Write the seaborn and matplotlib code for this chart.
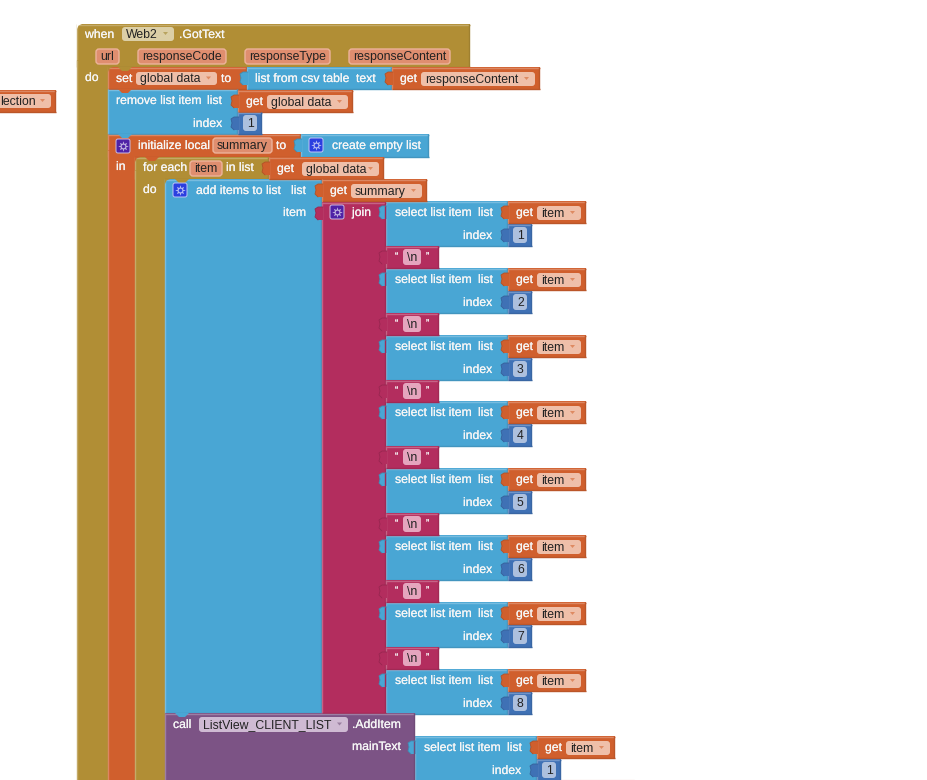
import matplotlib
matplotlib.use("Agg")
import matplotlib.pyplot as plt
import matplotlib.patheffects as pe
from matplotlib.patches import Rectangle, FancyBboxPatch, Polygon
import seaborn as sns

sns.set_theme(style="white")
plt.rcParams['font.family'] = ['Liberation Sans', 'DejaVu Sans']

# block colours
GOLD = "#B18E35"
ORANGE = "#D05F2D"
BLUE = "#49A6D4"
MAGENTA = "#B32D5E"
PURPLE = "#7C5385"
INDEX = "#3F71B5"
PILL_GET = "#EFBFA9"
PILL_PARAM = "#DF8E6F"
PILL_WEB = "#DCCFA6"
PILL_CALL = "#CFBAD3"
PILL_STR = "#E5A5BE"
PILL_IDX = "#ADC0DE"
GEAR_PURPLE = "#4F22A6"
GEAR_BLUE = "#2B3FE0"

# the repeated rows inside join
select_tops = [201, 268, 335, 401, 468, 535, 602, 669]
select_index = ["1", "2", "3", "4", "5", "6", "7", "8"]
string_tops = [246, 313, 380, 446, 513, 580, 647]
param_names = ["url", "responseCode", "responseType", "responseContent"]
param_left = [96, 138, 245, 349]
param_right = [119, 226, 330, 450]

fig = plt.figure(figsize=(9.28, 7.8), dpi=100, facecolor="white")
ax = fig.add_axes([0, 0, 1, 1])
ax.set_xlim(0, 928)
ax.set_ylim(780, 0)
ax.set_axis_off()


def lighter(c, amt=0.25):
    r, g, b = matplotlib.colors.to_rgb(c)
    return (r + (1 - r) * amt, g + (1 - g) * amt, b + (1 - b) * amt)


def darker(c, amt=0.1):
    r, g, b = matplotlib.colors.to_rgb(c)
    return (r * (1 - amt), g * (1 - amt), b * (1 - amt))


def box(x0, y0, x1, y1, color, z=2):
    ax.add_patch(Rectangle((x0, y0), x1 - x0, y1 - y0, fc=color, ec="none", zorder=z))
    ax.plot([x0, x1], [y0 + 0.5, y0 + 0.5], color=lighter(color), lw=1, zorder=z + 0.1, solid_capstyle="butt")
    ax.plot([x0 + 0.5, x0 + 0.5], [y0, y1], color=lighter(color), lw=1, zorder=z + 0.1, solid_capstyle="butt")
    ax.plot([x0, x1], [y1 - 0.5, y1 - 0.5], color=darker(color), lw=1, zorder=z + 0.1, solid_capstyle="butt")
    ax.plot([x1 - 0.5, x1 - 0.5], [y0, y1], color=darker(color), lw=1, zorder=z + 0.1, solid_capstyle="butt")


def column(x0, x1, y0, color, z):
    # the arm of a C shaped block, running off the bottom of the picture
    ax.add_patch(Rectangle((x0, y0), x1 - x0, 790 - y0, fc=color, ec="none", zorder=z))
    ax.plot([x0 + 0.5, x0 + 0.5], [y0, 780], color=lighter(color), lw=1, zorder=z + 0.1, solid_capstyle="butt")


def corner(x, y, parent, z=4):
    # rounded top left of a statement block, painted in the parent's colour
    ax.add_patch(Polygon([(x, y), (x + 5, y), (x + 1.5, y + 1.5), (x, y + 5)], fc=parent, ec="none", zorder=z))


def tab(x, y, color, z=3):
    # puzzle tab on the left edge of a value block
    pts = [(x + 1, y + 5), (x - 4, y + 5), (x - 7, y + 7), (x - 6, y + 11), (x - 7, y + 15), (x - 4, y + 18), (x + 1, y + 18)]
    ax.add_patch(Polygon(pts, fc=color, ec="none", zorder=z))
    ax.plot([p[0] for p in pts[:-1]], [p[1] for p in pts[:-1]], color=darker(color, 0.15), lw=0.6, zorder=z + 0.1)


def notch(x, y, color, z=4):
    # statement notch: the previous block's bump reaching into this one
    ax.add_patch(Polygon([(x, y), (x + 4, y + 4), (x + 10, y + 4), (x + 14, y)], fc=color, ec="none", zorder=z))


def label(x, y, s, color="#F6F6F6", ha="left", size=8.8, z=6):
    effects = [pe.withStroke(linewidth=0.12, foreground=color)] if color == "#F6F6F6" else []
    ax.text(x, y, s, color=color, ha=ha, va="center", fontsize=size, zorder=z, path_effects=effects)


def pill(x0, y0, x1, y1, s, color, arrow=None, tcolor="#222222", ec=None):
    ax.add_patch(FancyBboxPatch((x0 + 3, y0 + 3), x1 - x0 - 6, y1 - y0 - 6,
                                boxstyle="round,pad=3", fc=color, ec=ec or "none", lw=1, zorder=5))
    if s:
        label(x0 + 4, (y0 + y1) / 2 + 0.8, s, color=tcolor)
    if arrow is not None:
        ym = (y0 + y1) / 2
        ax.add_patch(Polygon([(x1 - 11, ym - 2), (x1 - 6, ym - 2), (x1 - 8.5, ym + 1)], fc=arrow,
                             ec="none", zorder=6))


def gear(x, y, color):
    ax.add_patch(FancyBboxPatch((x + 2, y + 2), 10, 10, boxstyle="round,pad=2", fc=color, ec=lighter(color, 0.7), lw=0.7, zorder=5))
    ax.plot([x + 7], [y + 7], marker=(8, 1, 0), ms=7.5, color=lighter(color, 0.65), mew=0, zorder=6)
    ax.plot([x + 7], [y + 7], marker="o", ms=2.6, color=color, mew=0, zorder=7)


def get_block(x, y, name, pill_x0, x1):
    box(x, y, x1, y + 22, ORANGE, z=3)
    tab(x, y, ORANGE, z=4)
    label(x + 8, y + 12, "get")
    pill(pill_x0, y + 5, x1 - 5, y + 19, name, PILL_GET, arrow="#DE8A62")


def index_block(x, y, s):
    box(x, y, x + 24, y + 22, INDEX, z=3)
    tab(x, y, INDEX, z=4)
    pill(x + 5, y + 3, x + 19, y + 19, s, PILL_IDX)


def select_block(x, y, s):
    box(x, y, x + 122, y + 45, BLUE, z=2)
    tab(x, y, BLUE, z=3)
    label(x + 9, y + 12, "select list item")
    label(x + 92, y + 12, "list")
    label(x + 77, y + 35, "index")
    get_block(x + 122, y, "item", x + 151, x + 200)
    index_block(x + 122, y + 23, s)


# outer event block
box(77, 24, 470, 67, GOLD, z=1)
column(77, 108, 60, GOLD, 1.5)
corner(77, 24, "white")
label(85, 35, "when")
pill(122, 27, 174, 41, "Web2", PILL_WEB, arrow="#B8A35F")
label(179, 35, ".GotText")
for name, left, right in zip(param_names, param_left, param_right):
    pill(left, 49, right, 64, name, PILL_PARAM, ec="#EDB39B")
label(85, 78, "do")

# stray block cut off on the left
box(-5, 90, 56, 112, ORANGE)
pill(-8, 94, 51, 108, "", PILL_GET, arrow="#DE8A62")
label(0.5, 101.8, "lection", color="#222222", z=7)

# set global data
box(108, 67, 247, 89, ORANGE)
corner(108, 67, GOLD)
notch(118, 67, GOLD)
label(116, 79, "set")
pill(136, 72, 217, 85, "global data", PILL_GET, arrow="#DE8A62")
label(221, 79, "to")
box(247, 67, 392, 89, BLUE)
tab(247, 67, BLUE)
label(255, 79, "list from csv table")
label(356, 79, "text")
get_block(392, 67, "responseContent", 421, 540)

# remove list item
box(108, 89, 238, 134, BLUE)
notch(118, 89, ORANGE)
label(116, 101, "remove list item")
label(207, 101, "list")
label(193, 124, "index")
get_block(238, 90, "global data", 267, 353)
index_block(238, 112, "1")

# initialize local
box(108, 134, 301, 157, ORANGE)
column(108, 135, 150, ORANGE, 2.5)
notch(118, 134, BLUE)
gear(116, 139, GEAR_PURPLE)
label(138, 146, "initialize local")
pill(213, 138, 272, 153, "summary", PILL_PARAM, ec="#EDB39B")
label(276, 146, "to")
box(301, 134, 429, 157, BLUE)
tab(301, 134, BLUE)
gear(309, 138, GEAR_BLUE)
label(332, 146, "create empty list")
label(116, 167, "in")

# for each
box(135, 157, 269, 179, GOLD, z=2.6)
column(135, 165, 170, GOLD, 2.7)
corner(135, 157, ORANGE)
notch(145, 157, ORANGE)
label(143, 168, "for each")
pill(190, 161, 222, 176, "item", PILL_PARAM, ec="#EDB39B")
label(226, 168, "in list")
get_block(269, 157, "global data", 302, 384)
label(143, 190, "do")

# add items to list
box(165, 179, 322, 713, BLUE, z=2.8)
corner(165, 179, GOLD)
notch(175, 179, GOLD)
gear(173, 183, GEAR_BLUE)
label(196, 191, "add items to list")
label(291, 191, "list")
label(283, 213, "item")
get_block(322, 179, "summary", 351, 427)

# join
box(322, 202, 386, 713, MAGENTA, z=3)
tab(322, 202, MAGENTA, z=4)
gear(330, 205, GEAR_PURPLE)
label(352, 213, "join")

for top, s in zip(select_tops, select_index):
    select_block(386, top, s)
for top in string_tops:
    box(386, top, 439, top + 22, MAGENTA, z=3)
    tab(386, top, MAGENTA, z=4)
    label(395, top + 10, "\u201c", size=7)
    pill(403, top + 3, 421, top + 19, "\\n", PILL_STR)
    label(426, top + 10, "\u201d", size=7)

# call AddItem
box(165, 713, 415, 786, PURPLE, z=3)
notch(175, 713, BLUE)
label(173, 725, "call")
pill(199, 717, 348, 732, "ListView_CLIENT_LIST", PILL_CALL, arrow="#9A7FA0")
label(352, 725, ".AddItem")
label(352, 747, "mainText")
select_block(415, 736, "1")
ax.plot([537, 634], [779.5, 779.5], color="#F6E4DC", lw=1, zorder=1)

fig.savefig("out.png", dpi=100)
